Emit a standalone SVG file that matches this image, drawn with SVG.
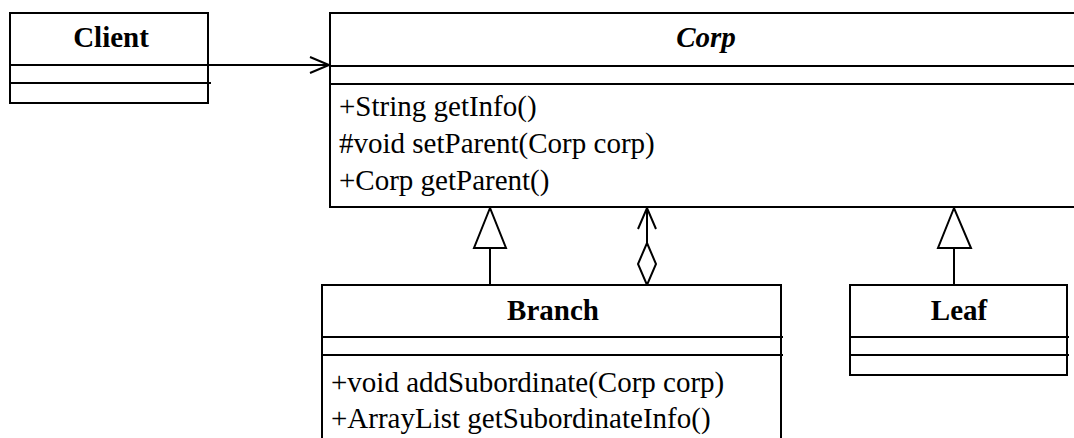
<svg xmlns="http://www.w3.org/2000/svg" width="1074" height="438" viewBox="0 0 1074 438">
  <style>
    .box { fill: #ffffff; stroke: #000000; stroke-width: 2; }
    .sep { stroke: #000000; stroke-width: 2; fill: none; }
    .title { font-family: "Liberation Serif", "Times New Roman", serif; font-size: 29px; font-weight: bold; fill: #000000; text-anchor: middle; }
    .abstract { font-style: italic; }
    .member { font-family: "Liberation Serif", "Times New Roman", serif; font-size: 29px; fill: #000000; }
    .edge { stroke: #000000; stroke-width: 2; fill: none; }
    .hollow { stroke: #000000; stroke-width: 2; fill: #ffffff; stroke-linejoin: miter; }
  </style>

  <!-- connectors -->
  <g id="connectors">
    <!-- Client uses Corp -->
    <line class="edge" x1="209" y1="65" x2="329" y2="65"/>
    <polyline class="edge" points="310,57 329,65 310,73"/>
    <!-- Branch extends Corp -->
    <line class="edge" x1="490" y1="248" x2="490" y2="285"/>
    <polygon class="hollow" points="490,208 474,248 506,248"/>
    <!-- Branch aggregates Corp -->
    <line class="edge" x1="647" y1="208" x2="647" y2="243"/>
    <polyline class="edge" points="638,229 647,208 656,229"/>
    <polygon class="hollow" points="647,243 656,264 647,285 638,264"/>
    <!-- Leaf extends Corp -->
    <line class="edge" x1="954" y1="248" x2="954" y2="285"/>
    <polygon class="hollow" points="954,208 938,248 971,248"/>
  </g>

  <g id="client">
    <rect class="box" x="10" y="13" width="198" height="90"/>
    <line class="sep" x1="10" y1="65" x2="211" y2="65"/>
    <line class="sep" x1="10" y1="83" x2="211" y2="83"/>
    <text class="title" x="111" y="47">Client</text>
  </g>

  <g id="corp">
    <rect class="box" x="330" y="13" width="760" height="194"/>
    <line class="sep" x1="330" y1="66" x2="1090" y2="66"/>
    <line class="sep" x1="330" y1="84" x2="1090" y2="84"/>
    <text class="title abstract" x="706" y="47">Corp</text>
    <text class="member" x="339" y="116">+String getInfo()</text>
    <text class="member" x="339" y="153">#void setParent(Corp corp)</text>
    <text class="member" x="339" y="190">+Corp getParent()</text>
  </g>

  <g id="branch">
    <rect class="box" x="322" y="285" width="459" height="170"/>
    <line class="sep" x1="322" y1="337" x2="783" y2="337"/>
    <line class="sep" x1="322" y1="355" x2="783" y2="355"/>
    <text class="title" x="553" y="320">Branch</text>
    <text class="member" x="331" y="392">+void addSubordinate(Corp corp)</text>
    <text class="member" x="331" y="428">+ArrayList getSubordinateInfo()</text>
  </g>

  <g id="leaf">
    <rect class="box" x="850" y="285" width="217" height="90"/>
    <line class="sep" x1="850" y1="337" x2="1069" y2="337"/>
    <line class="sep" x1="850" y1="355" x2="1069" y2="355"/>
    <text class="title" x="959" y="320">Leaf</text>
  </g>
</svg>
